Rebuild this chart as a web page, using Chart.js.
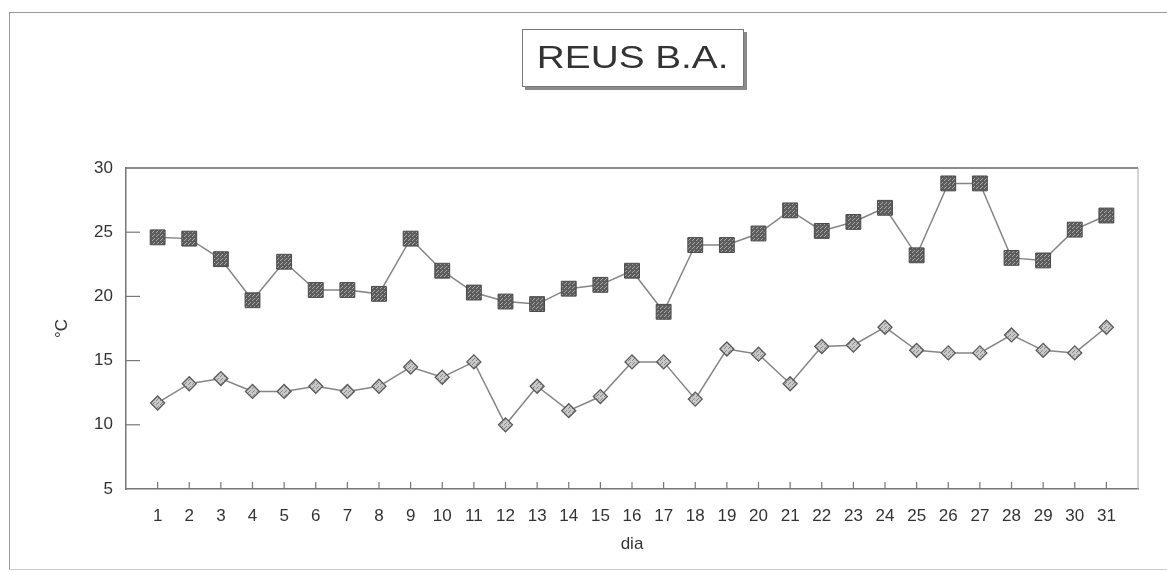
<!DOCTYPE html>
<html>
<head>
<meta charset="utf-8">
<script src="https://cdn.jsdelivr.net/npm/chart.js@4/dist/chart.umd.min.js"></script>
<style>
  body { margin: 0; background: #fff; }
  #wrap { position: relative; width: 1167px; height: 574px; overflow: hidden; }
  #frame { position: absolute; left: 9px; top: 12px; width: 1170px; height: 556px;
    border-left: 1px solid #999; border-top: 1px solid #999; border-bottom: 1px solid #ccc; }
  #titleBox { position: absolute; left: 522px; top: 29px; width: 220px; height: 56px;
    border: 1px solid #777; background: #fff; box-shadow: 3px 3px 0 #8a8a8a;
    display: flex; align-items: center; justify-content: center; }
  #titleBox span { font-family: 'Liberation Sans', Arial, sans-serif; font-size: 31px; color: #333;
    display: inline-block; transform: scaleX(1.25); }
  canvas { position: absolute; left: 0; top: 0; }
</style>
</head>
<body>
<div id="wrap">
  <div id="frame"></div>
  <canvas id="chart" width="1167" height="574"></canvas>
  <div id="titleBox"><span>REUS B.A.</span></div>
</div>
<script>
// dia del mes
const days = [1, 2, 3, 4, 5, 6, 7, 8, 9, 10, 11, 12, 13, 14, 15, 16, 17, 18, 19, 20, 21, 22, 23, 24, 25, 26, 27, 28, 29, 30, 31]
// temperatura màxima (°C)
const tMax = [24.6, 24.5, 22.9, 19.7, 22.7, 20.5, 20.5, 20.2, 24.5, 22.0, 20.3, 19.6, 19.4, 20.6, 20.9, 22.0, 18.8, 24.0, 24.0, 24.9, 26.7, 25.1, 25.8, 26.9, 23.2, 28.8, 28.8, 23.0, 22.8, 25.2, 26.3]
// temperatura mínima (°C)
const tMin = [11.7, 13.2, 13.6, 12.6, 12.6, 13.0, 12.6, 13.0, 14.5, 13.7, 14.9, 10.0, 13.0, 11.1, 12.2, 14.9, 14.9, 12.0, 15.9, 15.5, 13.2, 16.1, 16.2, 17.6, 15.8, 15.6, 15.6, 17.0, 15.8, 15.6, 17.6]
const yTicks = [5, 10, 15, 20, 25, 30]

function makePattern (bg, fg) {
  const c = document.createElement('canvas')
  c.width = 4
  c.height = 4
  const g = c.getContext('2d')
  g.fillStyle = bg
  g.fillRect(0, 0, 4, 4)
  g.fillStyle = fg
  g.fillRect(0, 0, 1, 1)
  g.fillRect(2, 2, 1, 1)
  g.fillRect(1, 3, 1, 1)
  return g.createPattern(c, 'repeat')
}

const FONT = "'Liberation Sans', Arial, sans-serif"

// marques de divisió cap a dins i marc superior/dret
const innerTicks = {
  id: 'innerTicks',
  beforeDatasetsDraw (chart) {
    const { ctx, chartArea: a, scales: { x, y } } = chart
    ctx.save()
    ctx.strokeStyle = '#666'
    ctx.lineWidth = 1.5
    ctx.beginPath()
    ctx.moveTo(a.left, a.top)
    ctx.lineTo(a.right, a.top)
    ctx.stroke()
    ctx.strokeStyle = '#aaa'
    ctx.lineWidth = 1
    ctx.beginPath()
    ctx.moveTo(a.right, a.top)
    ctx.lineTo(a.right, a.bottom)
    ctx.stroke()
    ctx.strokeStyle = '#777'
    ctx.lineWidth = 1.2
    yTicks.slice(1, -1).forEach(v => {
      const py = y.getPixelForValue(v)
      ctx.beginPath()
      ctx.moveTo(a.left, py)
      ctx.lineTo(a.left + 14, py)
      ctx.stroke()
    })
    days.forEach(d => {
      const px = x.getPixelForValue(d)
      ctx.beginPath()
      ctx.moveTo(px, a.bottom)
      ctx.lineTo(px, a.bottom - 7)
      ctx.stroke()
    })
    ctx.restore()
  }
}

new Chart(document.getElementById('chart'), {
  type: 'line',
  data: {
    datasets: [
      {
        label: 'T màx',
        data: days.map((d, i) => ({ x: d, y: tMax[i] })),
        borderColor: '#858585',
        borderWidth: 1.5,
        pointStyle: 'rect',
        pointRadius: 10.5,
        pointBackgroundColor: makePattern('#5c5c5c', '#a8a8a8'),
        pointBorderColor: '#4a4a4a',
        pointBorderWidth: 1
      },
      {
        label: 'T mín',
        data: days.map((d, i) => ({ x: d, y: tMin[i] })),
        borderColor: '#858585',
        borderWidth: 1.5,
        pointStyle: 'rectRot',
        pointRadius: 7,
        pointBackgroundColor: makePattern('#c8c8c8', '#8a8a8a'),
        pointBorderColor: '#5a5a5a',
        pointBorderWidth: 1.3
      }
    ]
  },
  options: {
    responsive: false,
    animation: false,
    layout: { padding: { left: 0, right: 29, top: 168, bottom: 0 } },
    plugins: { legend: { display: false }, tooltip: { enabled: false } },
    scales: {
      x: {
        type: 'linear',
        min: 0,
        max: 32,
        afterFit: (s) => { s.height = 85 },
        afterBuildTicks: (s) => { s.ticks = days.map(d => ({ value: d })) },
        grid: { display: false, drawTicks: false },
        border: { color: '#777', width: 1.5 },
        ticks: { autoSkip: false, maxRotation: 0, padding: 17, color: '#333', font: { family: FONT, size: 17 } },
        title: { display: true, text: 'dia', color: '#333', font: { family: FONT, size: 17 }, padding: { bottom: 19 } }
      },
      y: {
        min: 5,
        max: 30,
        afterFit: (s) => { s.width = 126 },
        afterBuildTicks: (s) => { s.ticks = yTicks.map(v => ({ value: v })) },
        grid: { display: false, drawTicks: false },
        border: { color: '#777', width: 1.5 },
        ticks: { padding: 13, color: '#333', font: { family: FONT, size: 17 } },
        title: { display: true, text: '°C', color: '#333', font: { family: FONT, size: 17 }, padding: { top: 52 } }
      }
    }
  },
  plugins: [innerTicks]
})
</script>
</body>
</html>
